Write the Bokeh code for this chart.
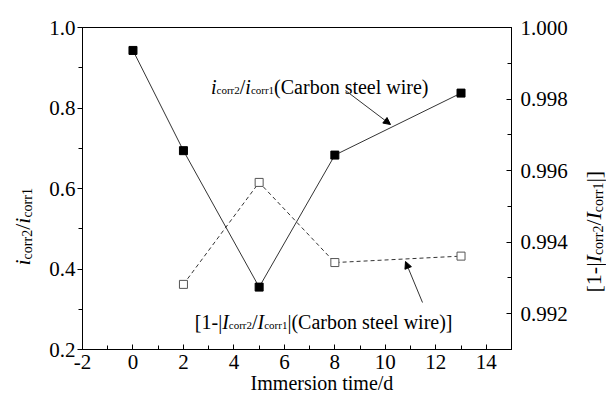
import math
from bokeh.plotting import figure
from bokeh.layouts import row
from bokeh.models import (Range1d, LinearAxis, PrintfTickFormatter, SingleIntervalTicker,
                          Label, Arrow, NormalHead)
from bokeh.embed import file_html
from bokeh.resources import INLINE

# ---------------- data ----------------
days = [0, 2, 5, 8, 13]
ratio_i = [0.943, 0.694, 0.355, 0.683, 0.837]          # i_corr2 / i_corr1 (left axis)
days_b = [2, 5, 8, 13]
one_minus_ratio = [0.99282, 0.99567, 0.99343, 0.99361]  # 1-|I_corr2/I_corr1| (right axis)

x_title = "Immersion time/d"

FONT = "Liberation Serif"

# Liberation Serif advance widths (per 1000 em)
W = {' ': 250, '(': 333, ')': 333, '-': 333, '.': 250, '/': 278, '[': 333, ']': 333, '|': 200,
     'a': 444, 'b': 500, 'c': 444, 'd': 500, 'e': 444, 'i': 278, 'l': 278, 'm': 778, 'n': 500,
     'o': 500, 'r': 333, 's': 389, 't': 278, 'w': 722, 'C': 667, 'I': 333}
for d in "0123456789":
    W[d] = 500


def tw(text, size):
    return sum(W.get(c, 500) for c in text) * size / 1000.0


def compose(fig, pieces, x0, y0, vertical=False):
    """pieces: (text, size, italic, drop) placed one after another (screen units of fig frame)"""
    pos = 0.0
    for text, size, italic, drop in pieces:
        if vertical:
            x, y, ang = x0 + drop, y0 + pos, math.pi / 2
        else:
            x, y, ang = x0 + pos, y0 - drop, 0
        fig.add_layout(Label(x=x, y=y, x_units="screen", y_units="screen", text=text,
                             angle=ang, text_font=FONT, text_font_size=f"{size}px",
                             text_font_style="italic" if italic else "normal",
                             text_color="black", text_baseline="alphabetic", text_align="left"))
        pos += tw(text, size)


# page geometry
H = 399
LW, RW = 42, 31
MW = 606 - LW - RW
FL, FR, FT, FB = 82, 511, 27, 349     # frame edges on the page


def side(w):
    # same vertical borders as the main plot
    f = figure(width=w, height=H, output_backend="svg", toolbar_location=None,
               x_range=Range1d(0, 1), y_range=Range1d(0, 1),
               min_border_left=0, min_border_right=0, min_border_top=FT, min_border_bottom=H - FB,
               x_axis_location=None, y_axis_location=None,
               background_fill_color="white", border_fill_color="white")
    f.grid.visible = False
    f.outline_line_color = None
    return f


p = figure(width=MW, height=H, output_backend="svg", toolbar_location=None,
           x_range=Range1d(-2, 15), y_range=Range1d(0.2, 1.0),
           min_border_left=FL - LW, min_border_right=LW + MW - FR,
           min_border_top=FT, min_border_bottom=H - FB,
           background_fill_color="white", border_fill_color="white")
p.extra_y_ranges = {"r": Range1d(0.991, 1.000)}
p.grid.visible = False
p.outline_line_color = "black"
p.outline_line_width = 1

xa = p.xaxis[0]
xa.ticker = SingleIntervalTicker(interval=2, num_minor_ticks=2)
xa.formatter = PrintfTickFormatter(format="%d")
xa.major_tick_in, xa.major_tick_out = 5, 0
xa.minor_tick_in, xa.minor_tick_out = 4, 0
xa.major_label_standoff = 5
# axis title, shifted right of the frame centre as in the reference
xa.axis_label = "\u00a0" * 10 + x_title
xa.axis_label_text_font = FONT
xa.axis_label_text_font_size = "20px"
xa.axis_label_text_font_style = "normal"
xa.axis_label_text_color = "black"
xa.axis_label_standoff = 0

ya = p.yaxis[0]
ya.ticker = SingleIntervalTicker(interval=0.2, num_minor_ticks=2)
ya.formatter = PrintfTickFormatter(format="%.1f")
ya.major_tick_in, ya.major_tick_out = 0, 5
ya.minor_tick_in, ya.minor_tick_out = 0, 4
ya.major_label_standoff = 2

ra = LinearAxis(y_range_name="r")
ra.ticker = SingleIntervalTicker(interval=0.002, num_minor_ticks=2)
ra.formatter = PrintfTickFormatter(format="%.3f")
ra.major_tick_in, ra.major_tick_out = 5, 0
ra.minor_tick_in, ra.minor_tick_out = 4, 0
ra.major_label_standoff = 9
p.add_layout(ra, "right")

for ax in (xa, ya, ra):
    ax.axis_line_color = "black"
    ax.major_tick_line_color = "black"
    ax.minor_tick_line_color = "black"
    ax.major_label_text_font = FONT
    ax.major_label_text_font_size = "21px"
    ax.major_label_text_color = "black"

p.line(days, ratio_i, line_color="#333333", line_width=1)
p.scatter(days, ratio_i, marker="square", size=8, fill_color="black", line_color="black")
p.line(days_b, one_minus_ratio, line_color="#333333", line_width=1, line_dash="4 3",
       y_range_name="r")
p.scatter(days_b, one_minus_ratio, marker="square", size=8, fill_color="white",
          line_color="#555555", line_width=1, y_range_name="r")


# page -> frame-relative screen coords for the main plot
def mx(cx):
    return cx - FL


def my(cy):
    return FB - cy


# annotations inside the frame
S, s, dr = 20, 11, 3
up = [("i", S, True, 0), ("corr2", s, False, dr), ("/", S, False, 0),
      ("i", S, True, 0), ("corr1", s, False, dr), ("(Carbon steel wire)", S, False, 0)]
compose(p, up, mx(428) - sum(tw(t, z) for t, z, _, _ in up), my(86))

low = [("[1-|", S, False, 0), ("I", S, True, 0), ("corr2", s, False, dr),
       ("/", S, False, 0), ("I", S, True, 0), ("corr1", s, False, dr),
       ("|(Carbon steel wire)]", S, False, 0)]
compose(p, low, mx(452) - sum(tw(t, z) for t, z, _, _ in low), my(321))

p.add_layout(Arrow(x_start=mx(345), y_start=my(90), x_end=mx(390), y_end=my(124),
                   start_units="screen", end_units="screen", line_color="#333333", line_width=1,
                   end=NormalHead(size=7, fill_color="black", line_color="black")))
p.add_layout(Arrow(x_start=mx(422), y_start=my(302), x_end=mx(405), y_end=my(261),
                   start_units="screen", end_units="screen", line_color="#333333", line_width=1,
                   end=NormalHead(size=7, fill_color="black", line_color="black")))

# side titles
AS, As, Ad = 22, 14, 5
left = side(LW)
compose(left, [("i", AS, True, 0), ("corr2", As, False, Ad), ("/", AS, False, 0),
               ("i", AS, True, 0), ("corr1", As, False, Ad)], 22, FB - 265, vertical=True)

right = side(RW)
compose(right, [("[1-|", AS, False, 0), ("I", AS, True, 0), ("corr2", As, False, Ad),
                ("/", AS, False, 0), ("I", AS, True, 0), ("corr1", As, False, Ad),
                ("|]", AS, False, 0)], 593 - (LW + MW), FB - 292, vertical=True)

layout = row(left, p, right, spacing=0)
open("out.html", "w").write(file_html(layout, INLINE))
